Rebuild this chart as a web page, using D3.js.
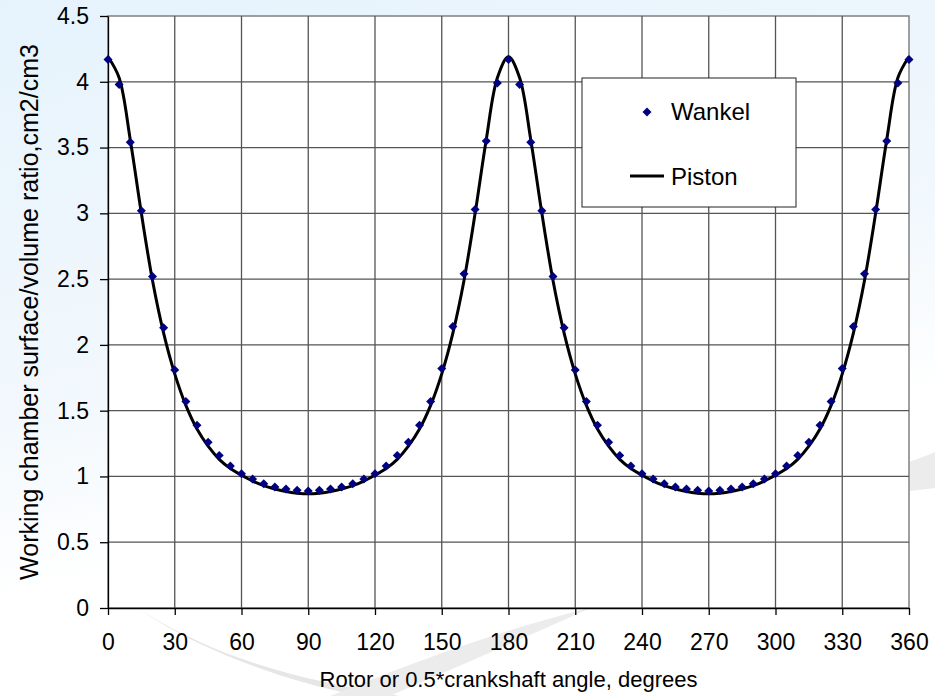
<!DOCTYPE html>
<html>
<head>
<meta charset="utf-8">
<script src="https://cdn.jsdelivr.net/npm/d3@7"></script>
<style>
  body { margin: 0; background: #fff; }
  svg { display: block; font-family: Arial, "Liberation Sans", sans-serif; }
</style>
</head>
<body>
<svg id="chart"></svg>
<script>
// angle every 5 degrees, 0..360
const angles = [0,5,10,15,20,25,30,35,40,45,50,55,60,65,70,75,80,85,90,
  95,100,105,110,115,120,125,130,135,140,145,150,155,160,165,170,175,180,
  185,190,195,200,205,210,215,220,225,230,235,240,245,250,255,260,265,270,
  275,280,285,290,295,300,305,310,315,320,325,330,335,340,345,350,355,360];

const wankel = [4.17,3.98,3.54,3.02,2.52,2.13,1.81,1.57,1.39,1.26,1.16,1.08,1.02,0.98,0.945,0.92,0.905,0.895,0.89,
  0.895,0.905,0.92,0.945,0.98,1.02,1.08,1.16,1.26,1.39,1.57,1.82,2.14,2.54,3.03,3.55,3.99,4.17,
  3.98,3.54,3.02,2.52,2.13,1.81,1.57,1.39,1.26,1.16,1.08,1.02,0.98,0.945,0.92,0.905,0.895,0.89,
  0.895,0.905,0.92,0.945,0.98,1.02,1.08,1.16,1.26,1.39,1.57,1.82,2.14,2.54,3.03,3.55,3.99,4.17];

const piston = [4.19,4.03,3.56,3.00,2.49,2.09,1.78,1.54,1.36,1.23,1.13,1.06,1.01,0.965,0.93,0.905,0.885,0.873,0.868,
  0.873,0.885,0.905,0.93,0.965,1.01,1.06,1.13,1.23,1.36,1.54,1.78,2.09,2.49,3.00,3.56,4.03,4.19,
  4.03,3.56,3.00,2.49,2.09,1.78,1.54,1.36,1.23,1.13,1.06,1.01,0.965,0.93,0.905,0.885,0.873,0.868,
  0.873,0.885,0.905,0.93,0.965,1.01,1.06,1.13,1.23,1.36,1.54,1.78,2.09,2.49,3.00,3.56,4.03,4.19];

const xTicks = [0,30,60,90,120,150,180,210,240,270,300,330,360];
const yTicks = [0,0.5,1,1.5,2,2.5,3,3.5,4,4.5];

const width = 935;
const height = 696;
const plotLeft = 108, plotRight = 909, plotTop = 16, plotBottom = 608;

const svg = d3.select("#chart").attr("width", width).attr("height", height);

// background
const defs = svg.append("defs");
const grad = defs.append("linearGradient").attr("id", "bg")
  .attr("x1", 0).attr("y1", 0).attr("x2", 0.3).attr("y2", 1);
grad.append("stop").attr("offset", "0%").attr("stop-color", "#e6f3fc");
grad.append("stop").attr("offset", "55%").attr("stop-color", "#f2f8fd");
grad.append("stop").attr("offset", "80%").attr("stop-color", "#ffffff");
svg.append("rect").attr("width", width).attr("height", height).attr("fill", "url(#bg)");

// faint swooshes
svg.append("path")
  .attr("d", "M140,610 C220,660 300,680 400,696 L360,696 C280,680 200,650 140,610 Z")
  .attr("fill", "#e6e6e6");
svg.append("path")
  .attr("d", "M590,608 C520,640 450,670 390,696 L330,696 C420,660 500,630 590,608 Z")
  .attr("fill", "#ececec");
svg.append("path")
  .attr("d", "M909,462 C920,458 928,455 935,452 L935,488 C928,489 918,490 909,491 Z")
  .attr("fill", "#ececec");

const x = d3.scaleLinear().domain([0, 360]).range([plotLeft, plotRight]);
const y = d3.scaleLinear().domain([0, 4.5]).range([plotBottom, plotTop]);

// plot area
svg.append("rect")
  .attr("x", plotLeft).attr("y", plotTop)
  .attr("width", plotRight - plotLeft).attr("height", plotBottom - plotTop)
  .attr("fill", "#fff").attr("stroke", "#808080").attr("stroke-width", 1.5);

// grid
svg.append("g").selectAll("line").data(xTicks.slice(1, -1)).enter().append("line")
  .attr("x1", d => x(d)).attr("x2", d => x(d))
  .attr("y1", plotTop).attr("y2", plotBottom)
  .attr("stroke", "#555").attr("stroke-width", 1.3);
svg.append("g").selectAll("line").data(yTicks.slice(1, -1)).enter().append("line")
  .attr("x1", plotLeft).attr("x2", plotRight)
  .attr("y1", d => y(d)).attr("y2", d => y(d))
  .attr("stroke", "#555").attr("stroke-width", 1.3);

// axes
const xAxis = d3.axisBottom(x).tickValues(xTicks).tickSize(7).tickPadding(19).tickSizeOuter(0);
const yAxis = d3.axisLeft(y).tickValues(yTicks).tickSize(8).tickPadding(11).tickSizeOuter(0)
  .tickFormat(d3.format("~g"));

const gx = svg.append("g").attr("transform", `translate(0,${plotBottom})`).call(xAxis);
const gy = svg.append("g").attr("transform", `translate(${plotLeft},0)`).call(yAxis);
[gx, gy].forEach(g => {
  g.select(".domain").attr("stroke", "#000").attr("stroke-width", 1.3);
  g.selectAll(".tick line").attr("stroke", "#000").attr("stroke-width", 1.3);
  g.selectAll(".tick text").attr("fill", "#000").style("font-size", "23px")
    .style("font-family", "Arial, 'Liberation Sans', sans-serif");
});

// axis titles
svg.append("text")
  .attr("x", (plotLeft + plotRight) / 2).attr("y", 687)
  .attr("text-anchor", "middle").style("font-size", "22px")
  .text("Rotor or 0.5*crankshaft angle, degrees");
svg.append("text")
  .attr("transform", `translate(38,${(plotTop + plotBottom) / 2}) rotate(-90)`)
  .attr("text-anchor", "middle").style("font-size", "25px")
  .text("Working chamber surface/volume ratio,cm2/cm3");

// piston line
const line = d3.line()
  .x((d, i) => x(angles[i]))
  .y(d => y(d))
  .curve(d3.curveCatmullRom.alpha(0.5));
svg.append("path").datum(piston)
  .attr("d", line)
  .attr("fill", "none").attr("stroke", "#000").attr("stroke-width", 3);

// wankel markers (square turned 45 degrees)
const diamond = d3.symbol().type(d3.symbolSquare).size(40);
svg.append("g").selectAll("path").data(wankel).enter().append("path")
  .attr("d", diamond)
  .attr("transform", (d, i) => `translate(${x(angles[i])},${y(d)}) rotate(45)`)
  .attr("fill", "#000080");

// legend
const lg = svg.append("g");
lg.append("rect").attr("x", 582).attr("y", 78).attr("width", 214).attr("height", 129)
  .attr("fill", "#fff").attr("stroke", "#222").attr("stroke-width", 1);
lg.append("path").attr("d", diamond).attr("transform", "translate(647,112) rotate(45)").attr("fill", "#000080");
lg.append("text").attr("x", 671).attr("y", 120).style("font-size", "24px").text("Wankel");
lg.append("line").attr("x1", 630).attr("x2", 664).attr("y1", 176).attr("y2", 176)
  .attr("stroke", "#000").attr("stroke-width", 3);
lg.append("text").attr("x", 671).attr("y", 185).style("font-size", "24px").text("Piston");
</script>
</body>
</html>
